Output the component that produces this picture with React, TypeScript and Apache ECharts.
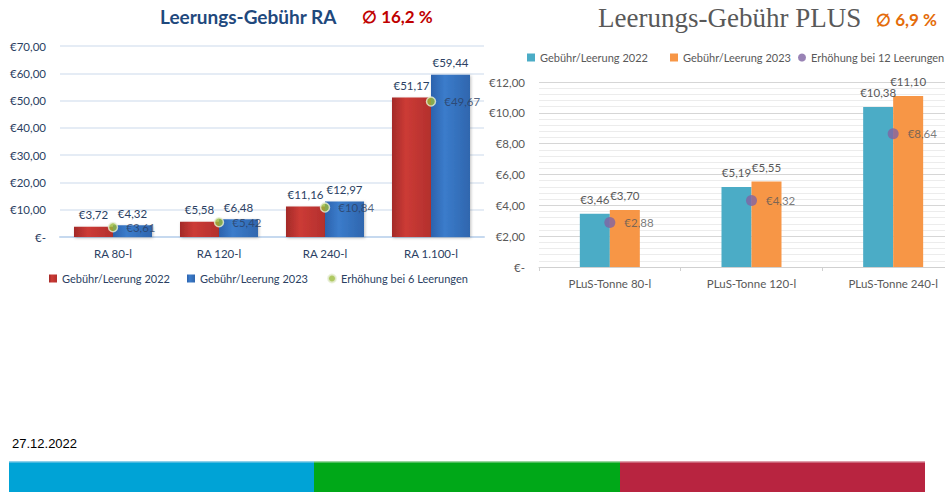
import React, { useEffect, useRef } from "react";
import * as echarts from "echarts";

const raCategories = ["RA 80-l", "RA 120-l", "RA 240-l", "RA 1.100-l"];
const ra2022 = [3.72, 5.58, 11.16, 51.17];
const ra2023 = [4.32, 6.48, 12.97, 59.44];
const ra6 = [3.61, 5.42, 10.84, 49.67];

const plusCategories = ["PLuS-Tonne 80-l", "PLuS-Tonne 120-l", "PLuS-Tonne 240-l"];
const plus2022 = [3.46, 5.19, 10.38];
const plus2023 = [3.7, 5.55, 11.1];
const plus12 = [2.88, 4.32, 8.64];

const legendRA = ["Gebühr/Leerung 2022", "Gebühr/Leerung 2023", "Erhöhung bei 6 Leerungen"];
const legendPlus = ["Gebühr/Leerung 2022 ", "Gebühr/Leerung 2023 ", "Erhöhung bei 12 Leerungen"];

const titleRA = "Leerungs-Gebühr RA";
const avgRA = "∅ 16,2 %";
const titlePlus = "Leerungs-Gebühr PLUS";
const avgPlus = "∅ 6,9 %";
const dateText = "27.12.2022";

const euro = (v: number) => (v === 0 ? "€-" : "€" + v.toFixed(2).replace(".", ","));

export default function App() {
  const ref = useRef<HTMLDivElement>(null);
  useEffect(() => {
    document.body.style.margin = "0";
    const chart = echarts.init(ref.current!, undefined, { renderer: "svg" });
    const font = "Lato, 'Open Sans', sans-serif";
    const raText = "#2b3f63";
    const plusText = "#595959";
    const redGrad = new echarts.graphic.LinearGradient(0, 0, 1, 0, [
      { offset: 0, color: "#a32a28" },
      { offset: 0.35, color: "#cc3b36" },
      { offset: 1, color: "#b3302d" },
    ]);
    const blueGrad = new echarts.graphic.LinearGradient(0, 0, 1, 0, [
      { offset: 0, color: "#2c62ad" },
      { offset: 0.35, color: "#3b7ccb" },
      { offset: 1, color: "#2f66ae" },
    ]);
    const raLegendLeft = [44, 182, 322];
    const plusLegendLeft = [522, 665, 793];
    const mkLegend = (name: string, left: number, top: number, circle: boolean, color: string) => ({
      data: [{ name, icon: circle ? "circle" : "rect" }],
      left,
      top,
      itemWidth: 8,
      itemHeight: 8,
      textStyle: { fontSize: 11, color, fontFamily: font },
    });
    chart.setOption({
      animation: false,
      textStyle: { fontFamily: font },
      grid: [
        { left: 60, right: 496, top: 46, bottom: 266 },
        { left: 539, right: 16, top: 82, bottom: 236 },
      ],
      legend: [
        ...legendRA.map((n, i) => mkLegend(n, raLegendLeft[i], 268, i === 2, raText)),
        ...legendPlus.map((n, i) => mkLegend(n, plusLegendLeft[i], 47, i === 2, plusText)),
      ],
      xAxis: [
        {
          type: "category",
          gridIndex: 0,
          data: raCategories,
          axisLine: { lineStyle: { color: "#c6d9ef", width: 2 } },
          axisTick: { show: false },
          axisLabel: { color: raText, fontSize: 11.5, margin: 10 },
        },
        {
          type: "category",
          gridIndex: 1,
          data: plusCategories,
          axisLine: { lineStyle: { color: "#d0d0d0", width: 1 } },
          axisTick: { show: true, length: 4, lineStyle: { color: "#d0d0d0" } },
          axisLabel: { color: plusText, fontSize: 11.5, margin: 10 },
        },
      ],
      yAxis: [
        {
          type: "value",
          gridIndex: 0,
          min: 0,
          max: 70,
          interval: 10,
          axisLine: { show: false },
          axisTick: { show: false },
          axisLabel: { color: raText, fontSize: 11.5, margin: 14, formatter: euro },
          splitLine: { lineStyle: { color: "#dce6f2", width: 1.5 } },
        },
        {
          type: "value",
          gridIndex: 1,
          min: 0,
          max: 12,
          interval: 2,
          axisLine: { show: false },
          axisTick: { show: false },
          axisLabel: { color: plusText, fontSize: 11.5, margin: 14, formatter: euro },
          splitLine: { lineStyle: { color: "#d6d6d6", width: 1 } },
          minorTick: { show: false, splitNumber: 5 },
          minorSplitLine: { show: true, lineStyle: { color: "#ececec", width: 1 } },
        },
      ],
      series: [
        {
          name: legendRA[0],
          type: "bar",
          xAxisIndex: 0,
          yAxisIndex: 0,
          data: ra2022,
          barWidth: 39,
          barGap: "0%",
          itemStyle: { color: redGrad, shadowColor: "rgba(0,0,0,0.25)", shadowBlur: 3, shadowOffsetX: 1, shadowOffsetY: 1 },
          label: { show: true, position: "top", distance: 6, color: raText, fontSize: 11.5, formatter: (p: any) => euro(p.value) },
        },
        {
          name: legendRA[1],
          type: "bar",
          xAxisIndex: 0,
          yAxisIndex: 0,
          data: ra2023,
          barWidth: 39,
          barGap: "0%",
          itemStyle: { color: blueGrad, shadowColor: "rgba(0,0,0,0.25)", shadowBlur: 3, shadowOffsetX: 1, shadowOffsetY: 1 },
          label: { show: true, position: "top", distance: 6, color: raText, fontSize: 11.5, formatter: (p: any) => euro(p.value) },
        },
        {
          name: legendRA[2],
          type: "scatter",
          xAxisIndex: 0,
          yAxisIndex: 0,
          data: ra6,
          symbolSize: 9,
          z: 5,
          itemStyle: { color: "#9bbb3b", borderColor: "#e8efd8", borderWidth: 1.5 },
          label: { show: true, position: "right", distance: 8, color: raText, fontSize: 11.5, formatter: (p: any) => euro(p.value) },
        },
        {
          name: legendPlus[0],
          type: "bar",
          xAxisIndex: 1,
          yAxisIndex: 1,
          data: plus2022,
          barWidth: 30,
          barGap: "0%",
          itemStyle: { color: "#4bacc6" },
          label: { show: true, position: "top", distance: 8, color: plusText, fontSize: 11.5, formatter: (p: any) => euro(p.value) },
        },
        {
          name: legendPlus[1],
          type: "bar",
          xAxisIndex: 1,
          yAxisIndex: 1,
          data: plus2023,
          barWidth: 30,
          barGap: "0%",
          itemStyle: { color: "#f79646" },
          label: { show: true, position: "top", distance: 8, color: plusText, fontSize: 11.5, formatter: (p: any) => euro(p.value) },
        },
        {
          name: legendPlus[2],
          type: "scatter",
          xAxisIndex: 1,
          yAxisIndex: 1,
          data: plus12,
          symbolSize: 11,
          z: 5,
          itemStyle: { color: "#8064a2" },
          label: { show: true, position: "right", distance: 9, color: plusText, fontSize: 11.5, formatter: (p: any) => euro(p.value) },
        },
      ],
      graphic: [
        {
          type: "text",
          left: 160,
          top: 7,
          style: { text: titleRA, fontFamily: font, fontWeight: "bold", fontSize: 19, fill: "#1f497d" },
        },
        {
          type: "text",
          left: 362,
          top: 8,
          style: { text: avgRA, fontFamily: font, fontWeight: "bold", fontSize: 17, fill: "#c00000" },
        },
        {
          type: "text",
          left: 598,
          top: 4,
          style: { text: titlePlus, fontFamily: "'Liberation Serif', serif", fontSize: 27, fill: "#595959" },
        },
        {
          type: "text",
          left: 876,
          top: 11,
          style: { text: avgPlus, fontFamily: font, fontWeight: "bold", fontSize: 17, fill: "#e46c0a" },
        },
        {
          type: "text",
          left: 12,
          top: 437,
          style: { text: dateText, fontFamily: "'Liberation Sans', Arial, sans-serif", fontSize: 13, fill: "#000" },
        },
        { type: "rect", shape: { x: 9, y: 461, width: 305, height: 31 }, style: { fill: "#00a3d6" } },
        { type: "rect", shape: { x: 314, y: 461, width: 306, height: 31 }, style: { fill: "#00a818" } },
        { type: "rect", shape: { x: 620, y: 461, width: 305, height: 31 }, style: { fill: "#b82440" } },
        { type: "rect", shape: { x: 9, y: 461, width: 305, height: 1.5 }, style: { fill: "#8fd0ea" } },
        { type: "rect", shape: { x: 314, y: 461, width: 306, height: 1.5 }, style: { fill: "#9ad6a0" } },
        { type: "rect", shape: { x: 620, y: 461, width: 305, height: 1.5 }, style: { fill: "#e0a0ad" } },
      ],
    });
    return () => chart.dispose();
  }, []);
  return (
    <div style={{ width: 945, height: 503, overflow: "hidden" }}>
      <div ref={ref} style={{ width: 980, height: 503 }} />
    </div>
  );
}
